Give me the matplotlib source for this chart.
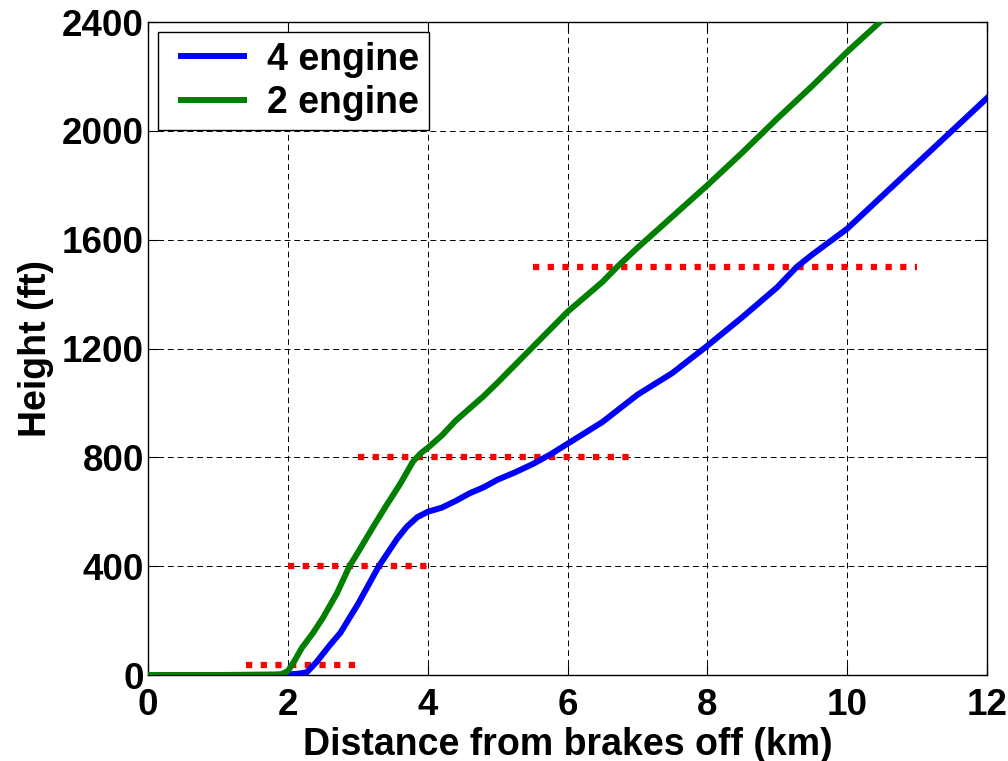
import matplotlib.pyplot as plt
from matplotlib.legend_handler import HandlerLine2D

plt.rcParams['font.family'] = ['Liberation Sans', 'DejaVu Sans']
plt.rcParams['font.weight'] = 'bold'

# 4 engine climb profile (km, ft)
x4 = [0, 1.0, 2.0, 2.15, 2.27, 2.4, 2.6, 2.75, 3.0, 3.3, 3.56, 3.7, 3.85, 4.0, 4.2, 4.4,
      4.6, 4.8, 5.0, 5.25, 5.5, 5.75, 6.0, 6.25, 6.5, 6.75, 7.0, 7.25, 7.5, 7.75, 8.0,
      8.5, 9.0, 9.28, 9.5, 10.0, 10.5, 11.0, 11.5, 12.0]
h4 = [0, 0, 2, 5, 10, 45, 110, 155, 260, 400, 500, 545, 580, 600, 615, 640,
      668, 690, 718, 745, 775, 810, 850, 890, 930, 980, 1030, 1070, 1110, 1160, 1210,
      1315, 1425, 1500, 1545, 1640, 1760, 1880, 2000, 2120]

# 2 engine climb profile
x2 = [0, 1.0, 1.8, 1.9, 2.0, 2.1, 2.2, 2.36, 2.5, 2.7, 2.88, 3.0, 3.22, 3.4, 3.6, 3.79,
      3.9, 4.0, 4.2, 4.4, 4.6, 4.8, 5.0, 5.25, 5.5, 5.75, 6.0, 6.25, 6.5, 6.71, 7.0,
      7.5, 8.0, 8.5, 8.78, 9.0, 9.5, 10.0, 10.47]
h2 = [0, 0, 0, 2, 15, 55, 100, 155, 210, 300, 400, 450, 545, 620, 700, 785,
      815, 835, 880, 935, 980, 1025, 1075, 1140, 1205, 1270, 1335, 1390, 1445, 1500, 1570,
      1685, 1800, 1920, 1990, 2045, 2165, 2290, 2400]

# required height steps (red dotted)
seg_y = [35, 400, 800, 1500]
seg_x0 = [1.4, 2.0, 3.0, 5.5]
seg_x1 = [3.0, 4.0, 7.0, 11.0]

fig = plt.figure(figsize=(10.08, 7.61), dpi=100)
ax = fig.add_axes([0.147, 0.113, 0.832, 0.858])

for y, a, b in zip(seg_y, seg_x0, seg_x1):
    ax.plot([a, b], [y, y], color='red', lw=4.5, linestyle=(0, (1.0, 1.35)),
            dash_capstyle='butt', zorder=2)

l4, = ax.plot(x4, h4, color='blue', lw=4.3, label='4 engine', zorder=3)
l2, = ax.plot(x2, h2, color='#007f00', lw=4.3, label='2 engine', zorder=3)

ax.set_xlim(0, 12)
ax.set_ylim(0, 2400)
ax.set_xticks(range(0, 13, 2))
ax.set_yticks(range(0, 2401, 400))
ax.grid(True, color='black', linestyle=(0, (6, 4)), lw=0.7)
ax.tick_params(direction='in', top=True, right=True, labelsize=26.5, length=7)
ax.tick_params(axis='x', pad=9)
ax.tick_params(axis='y', pad=3)
for s in ax.spines.values():
    s.set_linewidth(1.0)

ax.set_xlabel('Distance from brakes off (km)', fontsize=27, fontweight='bold', labelpad=3)
ax.set_ylabel('Height (ft)', fontsize=27, fontweight='bold', labelpad=6)

hm = {l4: HandlerLine2D(xpad=0.35), l2: HandlerLine2D(xpad=0.35)}
leg = ax.legend(loc='upper left', fontsize=27, fancybox=False, framealpha=1,
                edgecolor='black', handlelength=2.03, handletextpad=0.62, borderpad=0.25,
                labelspacing=0.2, borderaxespad=0.27, handler_map=hm)
leg.get_frame().set_linewidth(1.0)

fig.savefig('out.png', dpi=100)
